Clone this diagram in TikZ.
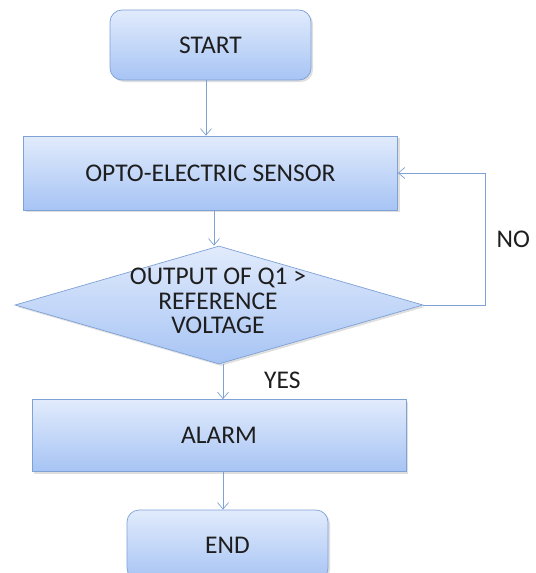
\documentclass[tikz,border=0pt]{standalone}
\usepackage{fontspec}
\setmainfont{Carlito}
\usetikzlibrary{shapes.geometric,arrows.meta,shadows}
\definecolor{boxline}{HTML}{7EA1D6}
\definecolor{boxtop}{HTML}{E1EBFC}
\definecolor{boxbottom}{HTML}{A7C4F4}
\definecolor{ink}{HTML}{1E1E1E}

\begin{document}
\begin{tikzpicture}[
    every node/.style={text=ink, font=\fontsize{14.5}{14}\selectfont},
    flowbox/.style={draw=boxline, top color=boxtop, bottom color=boxbottom,
        drop shadow={opacity=0.25, shadow xshift=0.04cm, shadow yshift=-0.04cm}},
    terminal/.style={flowbox, rounded corners=0.24cm, minimum width=4.02cm, minimum height=1.40cm},
    process/.style={flowbox, minimum width=7.48cm, minimum height=1.44cm},
    flow/.style={draw=boxline, -{Straight Barb[length=1.3mm, width=2.2mm]}}
]
    \useasboundingbox (0,0) rectangle (10.7,-11.46);

    % Start and sensor
    \node[terminal] (start) at (4.21,-0.90) {START};
    \node[process, minimum height=1.48cm] (sensor) at (4.21,-3.46) {OPTO-ELECTRIC SENSOR};

    % Decision
    \node[flowbox, diamond, inner sep=0pt, minimum width=8.16cm, minimum height=2.36cm] (dec) at (4.38,-6.10) {};
    \node[align=center] (dectext) at (4.36,-6.02) {OUTPUT OF Q1 >\\ REFERENCE\\ VOLTAGE};

    % Alarm and end
    \node[process] (alarm) at (4.38,-8.71) {ALARM};
    \node[terminal] (end) at (4.55,-10.90) {};
    \node (endtext) at (4.55,-10.90) {END};

    % Connectors
    \draw[flow] (start.south -| 4.12,0) -- (sensor.north -| 4.12,0);
    \draw[flow] (sensor.south -| 4.28,0) -- (dec.north -| 4.28,0);
    \draw[flow] (dec.south -| 4.46,0) -- (alarm.north -| 4.46,0) node[pos=0.45, right=0.7cm] {YES};
    \draw[flow] (alarm.south -| 4.46,0) -- (end.north -| 4.46,0);
    \draw[flow] (dec.east) -- ++(1.24,0) |- (sensor.east) node[pos=0.25, right=0.1cm] {NO};

\end{tikzpicture}
\end{document}
